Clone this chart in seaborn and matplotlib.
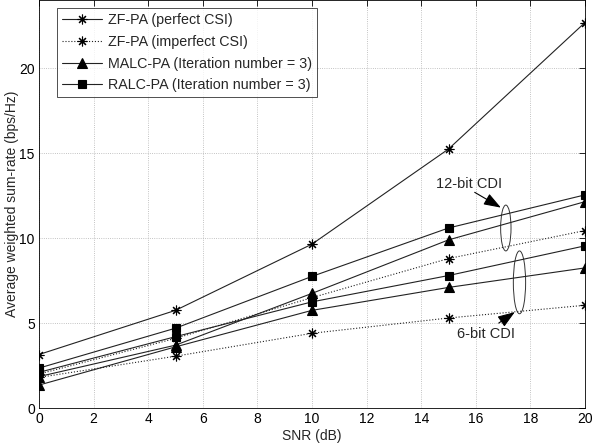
import numpy as np
import pandas as pd
import matplotlib
matplotlib.use("Agg")
import matplotlib.pyplot as plt
from matplotlib.patches import Ellipse
import seaborn as sns

snr = [0, 5, 10, 15, 20]
zf_perfect = [3.15, 5.75, 9.65, 15.25, 22.7]
zf_imperfect_12 = [2.0, 4.1, 6.5, 8.8, 10.45]
zf_imperfect_6 = [1.8, 3.05, 4.4, 5.3, 6.05]
malc_12 = [1.85, 3.7, 6.75, 9.9, 12.15]
malc_6 = [1.35, 3.6, 5.75, 7.1, 8.25]
ralc_12 = [2.35, 4.7, 7.75, 10.6, 12.55]
ralc_6 = [2.1, 4.2, 6.25, 7.8, 9.55]

labels = ["ZF-PA (perfect CSI)", "ZF-PA (imperfect CSI)",
          "MALC-PA (Iteration number = 3)", "RALC-PA (Iteration number = 3)"]

sns.set_theme(style="white")
plt.rcParams['font.family'] = ['Liberation Sans', 'DejaVu Sans']
plt.rcParams['font.size'] = 10

fig = plt.figure(figsize=(5.92, 4.48), dpi=100)
ax = fig.add_axes([39/592, 40/448, (585-39)/592, 0.999 - 40/448])

star = (8, 2, 0)
series = [
    (zf_perfect, labels[0], '-', star, 7),
    (zf_imperfect_12, labels[1], ':', star, 7),
    (malc_12, labels[2], '-', '^', 7),
    (ralc_12, labels[3], '-', 's', 6),
    (zf_imperfect_6, None, ':', star, 7),
    (malc_6, None, '-', '^', 7),
    (ralc_6, None, '-', 's', 6),
]
for vals, lab, ls, mk, ms in series:
    df = pd.DataFrame({"snr": snr, "rate": vals})
    sns.lineplot(data=df, x="snr", y="rate", ax=ax, color='#222222',
                 linestyle=ls, linewidth=0.8, marker=mk, markersize=ms,
                 markerfacecolor='black', markeredgecolor='black',
                 markeredgewidth=0.8, label=lab if lab else '_nolegend_')

ax.set_xlim(0, 20)
ax.set_ylim(0, 24)
ax.set_xticks(range(0, 21, 2))
ax.set_yticks([0, 5, 10, 15, 20])
ax.grid(True, linestyle=':', linewidth=0.6, color='#b0b0b0')
ax.tick_params(direction='in', length=4, top=True, right=True,
               labelsize=10, colors='black', pad=3, width=0.6)
for s in ax.spines.values():
    s.set_color('black')
    s.set_linewidth(0.6)
ax.set_xlabel("SNR (dB)", fontsize=10, labelpad=2)
ax.set_ylabel("Average weighted sum-rate (bps/Hz)", fontsize=10)
ax.yaxis.set_label_coords(-0.036, 0.5)

leg = ax.legend(loc='upper left', bbox_to_anchor=(0.033, 0.982), fontsize=10.3,
                handlelength=2.8, labelspacing=0.55, frameon=True,
                fancybox=False, edgecolor='black', borderpad=0.35,
                handletextpad=0.4, borderaxespad=0)
leg.get_frame().set_linewidth(0.6)

ax.add_patch(Ellipse((17.1, 10.6), 0.38, 2.7, fill=False, edgecolor='#333333', linewidth=0.7))
ax.add_patch(Ellipse((17.6, 7.4), 0.45, 3.7, fill=False, edgecolor='#333333', linewidth=0.7))

arrow_style = '-|>,head_length=0.7,head_width=0.25'
ax.text(15.74, 13.2, "12-bit CDI", ha='center', va='center', fontsize=10.5)
ax.annotate("", xy=(16.92, 11.8), xytext=(15.96, 12.7),
            arrowprops=dict(arrowstyle=arrow_style, color='black', lw=0.8,
                            mutation_scale=15, shrinkA=0, shrinkB=0))
ax.text(16.37, 4.35, "6-bit CDI", ha='center', va='center', fontsize=10.5)
ax.annotate("", xy=(17.43, 5.65), xytext=(16.84, 5.0),
            arrowprops=dict(arrowstyle=arrow_style, color='black', lw=0.8,
                            mutation_scale=15, shrinkA=0, shrinkB=0))

fig.savefig("out.png", dpi=100)
